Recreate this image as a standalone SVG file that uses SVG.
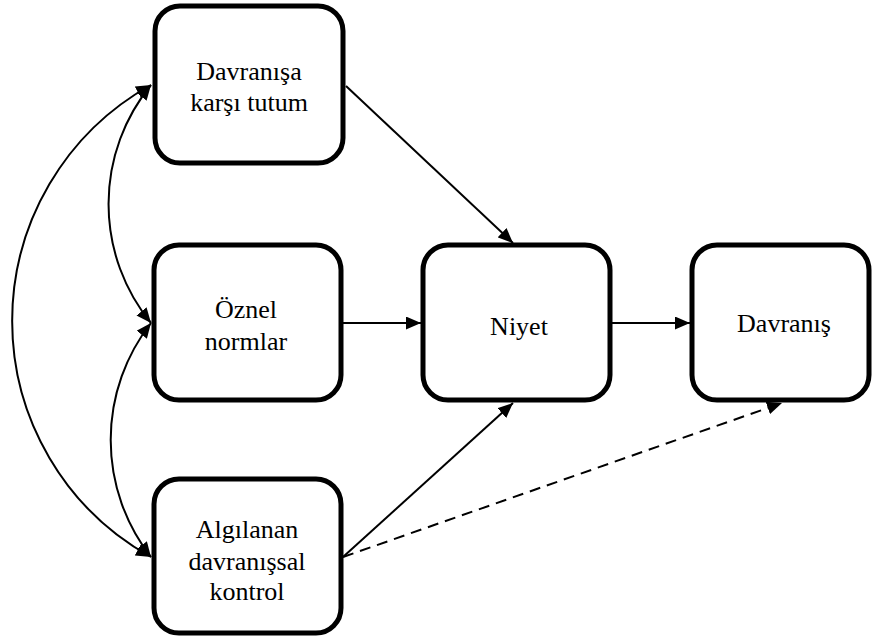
<svg xmlns="http://www.w3.org/2000/svg" width="874" height="643" viewBox="0 0 874 643">
  <style>
    .box { fill: #ffffff; stroke: #000000; stroke-width: 5; }
    .lbl { font-family: 'Liberation Serif', 'Times New Roman', Tinos, 'DejaVu Serif', serif; font-size: 26px; fill: #000000; text-anchor: middle; }
    .edge { fill: none; stroke: #000000; stroke-width: 2; }
    .dash { stroke-dasharray: 11 7; }
  </style>
  <defs>
    <marker id="arrow" markerUnits="userSpaceOnUse" markerWidth="15" markerHeight="13" refX="15" refY="6.5" orient="auto-start-reverse">
      <path d="M0,0 L15,6.5 L0,13 Z" fill="#000000"/>
    </marker>
  </defs>

  <rect width="874" height="643" fill="#ffffff"/>

  <!-- connectors -->
  <g id="connectors">
    <!-- correlations between the three predictors -->
    <path class="edge" d="M151,85 A188,188 0 0,0 151,323" marker-start="url(#arrow)" marker-end="url(#arrow)"/>
    <path class="edge" d="M151,323 A190,190 0 0,0 151,557" marker-start="url(#arrow)" marker-end="url(#arrow)"/>
    <path class="edge" d="M151,85 A270,270 0 0,0 151,557" marker-start="url(#arrow)" marker-end="url(#arrow)"/>
    <!-- paths into intention -->
    <line class="edge" x1="346" y1="86" x2="513" y2="243" marker-end="url(#arrow)"/>
    <line class="edge" x1="343" y1="323" x2="421" y2="323" marker-end="url(#arrow)"/>
    <line class="edge" x1="343" y1="557" x2="513" y2="403" marker-end="url(#arrow)"/>
    <!-- intention to behaviour -->
    <line class="edge" x1="612" y1="323" x2="690" y2="323" marker-end="url(#arrow)"/>
    <!-- direct path from perceived control to behaviour -->
    <line class="edge dash" x1="343" y1="557" x2="782" y2="403" marker-end="url(#arrow)"/>
  </g>

  <g id="tutum">
    <rect class="box" x="155" y="6" width="188" height="157" rx="25" ry="25"/>
    <text class="lbl" x="249" y="80">Davranışa</text>
    <text class="lbl" x="249" y="111">karşı tutum</text>
  </g>

  <g id="oznel-normlar">
    <rect class="box" x="154" y="245" width="187" height="155" rx="25" ry="25"/>
    <text class="lbl" x="246" y="318">Öznel</text>
    <text class="lbl" x="246" y="350">normlar</text>
  </g>

  <g id="algilanan-kontrol">
    <rect class="box" x="154" y="479" width="187" height="154" rx="25" ry="25"/>
    <text class="lbl" x="247" y="538">Algılanan</text>
    <text class="lbl" x="247" y="570">davranışsal</text>
    <text class="lbl" x="247" y="600">kontrol</text>
  </g>

  <g id="niyet">
    <rect class="box" x="423" y="245" width="187" height="155" rx="25" ry="25"/>
    <text class="lbl" x="519" y="335">Niyet</text>
  </g>

  <g id="davranis">
    <rect class="box" x="692" y="245" width="177" height="155" rx="25" ry="25"/>
    <text class="lbl" x="784" y="332">Davranış</text>
  </g>
</svg>
